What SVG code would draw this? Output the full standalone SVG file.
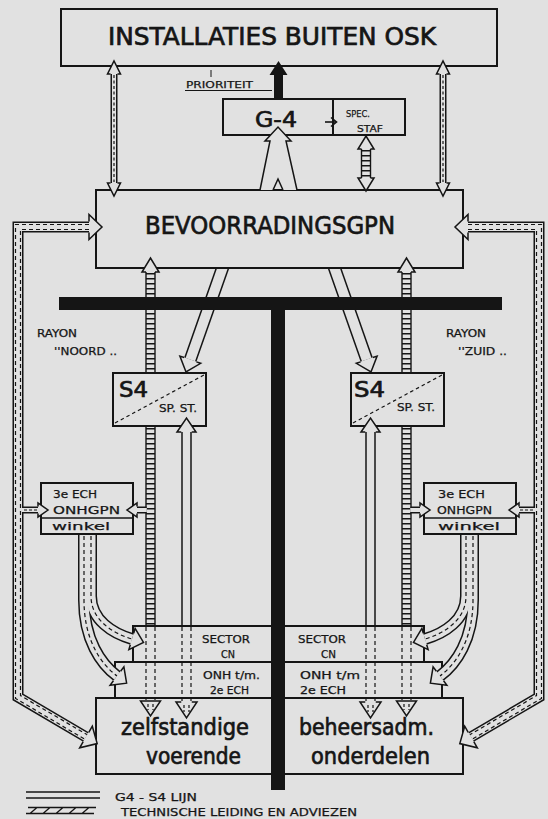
<svg xmlns="http://www.w3.org/2000/svg" width="548" height="819" viewBox="0 0 548 819">
<style>
.bg{fill:#e1e1e1}
.bx{fill:#e1e1e1;stroke:#151515;stroke-width:2}
.hd{fill:#e1e1e1;stroke:#151515;stroke-width:1.5;stroke-linejoin:miter}
.sk{fill:none;stroke:#151515;stroke-linejoin:miter}
.sb{fill:none;stroke:#e1e1e1;stroke-linejoin:miter}
.ds{fill:none;stroke:#151515;stroke-width:1.2;stroke-dasharray:4 3}
.rg{fill:none;stroke:#151515;stroke-dasharray:1.4 3.6}
.ink{fill:#151515}
text{font-family:"DejaVu Sans","Liberation Sans",Arial,sans-serif;fill:#151515}
.hv{stroke:#151515;stroke-width:0.7}
.sm{stroke:#151515;stroke-width:0.25}
</style>
<rect class="bg" x="0" y="0" width="548" height="819"/>

<g id="connectors-under">
 <g id="left-under">
  <line x1="146" y1="272" x2="146" y2="627" class="sk" stroke-width="1.4"/>
  <line x1="155" y1="272" x2="155" y2="627" class="sk" stroke-width="1.4"/>
  <line x1="150.5" y1="273" x2="150.5" y2="627" class="rg" stroke-width="9"/>
  <path class="sk" stroke-width="13" d="M224.6,262 L190.3,359.7"/>
  <path class="sb" stroke-width="10" d="M224.6,262 L190.3,359.7"/>
  <line class="sk" stroke-width="10.5" x1="186.5" y1="432" x2="186.5" y2="627"/>
  <line class="sb" stroke-width="7.5" x1="186.5" y1="432" x2="186.5" y2="627"/>
 </g>
 <use href="#left-under" transform="matrix(-1,0,0,1,557,0)"/>
</g>

<g id="n-installaties">
 <rect class="bx" x="61" y="9" width="436" height="57"/>
 <text class="hv" x="108" y="45" font-size="24" textLength="328" lengthAdjust="spacingAndGlyphs">INSTALLATIES BUITEN OSK</text>
</g>
<g id="n-g4">
 <rect class="bx" x="223" y="99" width="182" height="36"/>
 <line x1="333" y1="99" x2="333" y2="135" stroke="#151515" stroke-width="2"/>
 <text class="hv" x="255" y="127" font-size="22" textLength="42" lengthAdjust="spacingAndGlyphs">G-4</text>
 <text class="sm" x="346" y="117" font-size="9" textLength="24" lengthAdjust="spacingAndGlyphs">SPEC.</text>
 <text class="sm" x="357" y="132" font-size="9" textLength="26" lengthAdjust="spacingAndGlyphs">STAF</text>
</g>
<g id="n-bevoorrading">
 <rect class="bx" x="96" y="190" width="367" height="78"/>
 <text class="hv" x="145" y="234" font-size="24" textLength="250" lengthAdjust="spacingAndGlyphs">BEVOORRADINGSGPN</text>
</g>
<g id="n-s4-noord">
 <rect class="bx" x="113" y="373" width="93" height="53"/>
 <line class="ds" x1="115" y1="423" x2="204" y2="375" style="stroke-dasharray:3.5 3"/>
 <text class="hv" x="119" y="397" font-size="21" textLength="29" lengthAdjust="spacingAndGlyphs">S4</text>
 <text class="sm" x="159" y="412" font-size="10" textLength="38" lengthAdjust="spacingAndGlyphs">SP. ST.</text>
</g>
<g id="n-s4-zuid">
 <rect class="bx" x="351" y="373" width="93" height="53"/>
 <line class="ds" x1="353" y1="423" x2="442" y2="375" style="stroke-dasharray:3.5 3"/>
 <text class="hv" x="354" y="397" font-size="21" textLength="31" lengthAdjust="spacingAndGlyphs">S4</text>
 <text class="sm" x="397" y="411" font-size="10" textLength="38" lengthAdjust="spacingAndGlyphs">SP. ST.</text>
</g>
<g id="n-ech-noord">
 <rect class="bx" x="41" y="483" width="92" height="51"/>
 <line x1="41" y1="518" x2="133" y2="518" stroke="#151515" stroke-width="1.5"/>
 <text class="sm" x="53" y="498" font-size="11" textLength="44" lengthAdjust="spacingAndGlyphs">3e ECH</text>
 <text class="sm" x="53" y="514" font-size="11" textLength="67" lengthAdjust="spacingAndGlyphs">ONHGPN</text>
 <text class="sm" x="52" y="530" font-size="11" textLength="58" lengthAdjust="spacingAndGlyphs">winkel</text>
</g>
<g id="n-ech-zuid">
 <rect class="bx" x="424" y="483" width="92" height="51"/>
 <line x1="424" y1="518" x2="516" y2="518" stroke="#151515" stroke-width="1.5"/>
 <text class="sm" x="438" y="498" font-size="11" textLength="47" lengthAdjust="spacingAndGlyphs">3e ECH</text>
 <text class="sm" x="437" y="514" font-size="11" textLength="55" lengthAdjust="spacingAndGlyphs">ONHGPN</text>
 <text class="sm" x="438" y="530" font-size="11" textLength="62" lengthAdjust="spacingAndGlyphs">winkel</text>
</g>
<g id="n-sector">
 <rect class="bx" x="133" y="626" width="291" height="36"/>
 <text class="sm" x="202" y="643" font-size="10" textLength="48" lengthAdjust="spacingAndGlyphs">SECTOR</text>
 <text class="sm" x="221" y="658" font-size="10" textLength="14" lengthAdjust="spacingAndGlyphs">CN</text>
 <text class="sm" x="298" y="643" font-size="10" textLength="48" lengthAdjust="spacingAndGlyphs">SECTOR</text>
 <text class="sm" x="321" y="658" font-size="10" textLength="15" lengthAdjust="spacingAndGlyphs">CN</text>
</g>
<g id="n-onh">
 <rect class="bx" x="115" y="662" width="327" height="36"/>
 <text class="sm" x="203" y="679" font-size="10" textLength="57" lengthAdjust="spacingAndGlyphs">ONH  t/m.</text>
 <text class="sm" x="210" y="694" font-size="10" textLength="39" lengthAdjust="spacingAndGlyphs">2e ECH</text>
 <text class="sm" x="300" y="679" font-size="10" textLength="60" lengthAdjust="spacingAndGlyphs">ONH  t/m</text>
 <text class="sm" x="300" y="694" font-size="10" textLength="46" lengthAdjust="spacingAndGlyphs">2e ECH</text>
</g>
<g id="n-onderdelen">
 <rect class="bx" x="96" y="698" width="367" height="76"/>
 <text class="hv" x="121" y="735" font-size="23" textLength="128" lengthAdjust="spacingAndGlyphs">zelfstandige</text>
 <text class="hv" x="146" y="764" font-size="23" textLength="95" lengthAdjust="spacingAndGlyphs">voerende</text>
 <text class="hv" x="299" y="735" font-size="23" textLength="135" lengthAdjust="spacingAndGlyphs">beheersadm.</text>
 <text class="hv" x="311" y="764" font-size="23" textLength="119" lengthAdjust="spacingAndGlyphs">onderdelen</text>
</g>

<g id="labels">
 <text class="sm" x="186" y="88" font-size="9" textLength="67" lengthAdjust="spacingAndGlyphs">PRIORITEIT</text>
 <line x1="185" y1="90.5" x2="272" y2="90.5" stroke="#151515" stroke-width="1"/>
 <line x1="211" y1="70" x2="211" y2="77" stroke="#151515" stroke-width="1"/>
 <text class="sm" x="37" y="337" font-size="10" textLength="40" lengthAdjust="spacingAndGlyphs">RAYON</text>
 <text class="sm" x="54" y="355" font-size="10" textLength="63" lengthAdjust="spacingAndGlyphs">''NOORD ..</text>
 <text class="sm" x="446" y="337" font-size="10" textLength="40" lengthAdjust="spacingAndGlyphs">RAYON</text>
 <text class="sm" x="458" y="355" font-size="10" textLength="49" lengthAdjust="spacingAndGlyphs">''ZUID ..</text>
</g>

<g id="connectors">
 <g id="left-over">
  <line x1="114" y1="74" x2="114" y2="183" class="sk" stroke-width="7"/>
  <line x1="114" y1="74" x2="114" y2="183" class="sb" stroke-width="4"/>
  <line x1="114" y1="75" x2="114" y2="182" class="ds" style="stroke-dasharray:3 2.5"/>
  <path class="hd" d="M110.5,74 L107.5,74 L114,61 L120.5,74 L117.5,74"/>
  <path class="hd" d="M110.5,183 L107.5,183 L114,196 L120.5,183 L117.5,183"/>

  <path class="sk" stroke-width="11" d="M89,227 L18,227 L18,697 L86,737"/>
  <path class="sb" stroke-width="8" d="M89,227 L18,227 L18,697 L86,737"/>
  <path class="ds" d="M89,229.5 L20.5,229.5 L20.5,695.6 L87.3,734.8"/>
  <path class="ds" d="M89,224.5 L15.5,224.5 L15.5,698.4 L84.7,739.2"/>
  <path class="hd" d="M89,221.5 L89,214.5 L102,227 L89,239.5 L89,232.5"/>
  <path class="hd" d="M88.8,732.3 L92.3,726.2 L97.2,743.6 L79.7,747.8 L83.2,741.7"/>

  <line x1="22" y1="510" x2="38" y2="510" class="sk" stroke-width="7"/>
  <line x1="21.8" y1="510" x2="38" y2="510" class="sb" stroke-width="4"/>
  <line x1="24" y1="510" x2="39" y2="510" class="ds" style="stroke-dasharray:3 2"/>
  <path class="hd" d="M38,506.5 L38,503 L48,510 L38,517 L38,513.5"/>

  <line x1="137" y1="510" x2="146.5" y2="510" class="sk" stroke-width="7"/>
  <line x1="137" y1="510" x2="146.8" y2="510" class="sb" stroke-width="4"/>
  <path class="hd" d="M137,506.5 L137,503 L127,510 L137,517 L137,513.5"/>

  <path class="sk" stroke-width="12" d="M91,535 L91,596 C91,620 112.8,633.4 132,639"/>
  <path class="sk" stroke-width="12" d="M84,535 L84,600 C84,640 101,664 117,676"/>
  <path class="sb" stroke-width="9" d="M91,535 L91,596 C91,620 112.8,633.4 132,639"/>
  <path class="sb" stroke-width="9" d="M84,535 L84,600 C84,640 101,664 117,676"/>
  <path class="ds" d="M91,536 L91,596 C91,620 112.8,633.4 132,639"/>
  <path class="ds" d="M84,536 L84,600 C84,640 101,664 117,676"/>
  <path class="hd" d="M133.7,633.2 L135.1,628.4 L143.5,642.4 L128.9,649.6 L130.3,644.8"/>
  <path class="hd" d="M120.6,671.2 L123.9,666.8 L126.6,683.2 L110.1,685.2 L113.4,680.8"/>

  <path class="hd" d="M146,272 L142,272 L150.5,258 L159,272 L155,272"/>
  <path class="hd" d="M181.25,432 L177,432 L186.5,418 L196,432 L191.75,432"/>
  <path class="hd" d="M196.4,361.9 L200.7,363.3 L186,372 L179.9,356.1 L184.2,357.55"/>

  <path class="hd" d="M140.5,701 L160.5,701 L150.5,716 Z"/>
  <path class="hd" d="M181.25,702 L176,702 L186.5,718 L197,702 L191.75,702"/>
  <path class="ds" d="M146,627 V700 M155,627 V700 M182,627 V703 M191,627 V703"/>
  <path class="ds" d="M148,704 V710 M153,704 V710 M184,705 V712 M189,705 V712" style="stroke-dasharray:3 2"/>
 </g>
 <use href="#left-over" transform="matrix(-1,0,0,1,557,0)"/>

 <g id="g4-links">
  <line x1="361.5" y1="149" x2="361.5" y2="178" class="sk" stroke-width="1.4"/>
  <line x1="370.5" y1="149" x2="370.5" y2="178" class="sk" stroke-width="1.4"/>
  <line x1="366" y1="150" x2="366" y2="178" class="rg" stroke-width="9"/>
  <path class="hd" d="M361.5,149 L358,149 L366,136 L374,149 L370.5,149"/>
  <path class="hd" d="M361.5,178 L358,178 L366,191 L374,178 L370.5,178"/>
  <path class="hd" d="M260,190 L270,141 L265,141 L278,127 L291,141 L286,141 L297,190 M283,190 L278,179 L273,190"/>
  <path class="ink" d="M274,100 V75 H269.5 L278.5,61 L287.5,75 H283 V100 Z"/>
  <line x1="325" y1="122" x2="336" y2="122" stroke="#151515" stroke-width="1.6"/>
  <path d="M331,117.5 L336.5,122 L331,126.5" fill="none" stroke="#151515" stroke-width="1.6"/>
 </g>
</g>

<g id="t-divider">
 <rect class="ink" x="59" y="297" width="443" height="13"/>
 <rect class="ink" x="271" y="297" width="14" height="493"/>
</g>

<g id="legend">
 <line x1="26" y1="792" x2="100" y2="792" stroke="#151515" stroke-width="1.3"/>
 <line x1="26" y1="798" x2="100" y2="798" stroke="#151515" stroke-width="1.3"/>
 <text class="sm" x="115" y="801" font-size="10" textLength="82" lengthAdjust="spacingAndGlyphs">G4 - S4 LIJN</text>
 <path d="M28,807.5 H96 M26,813.5 H94 M30,813.5 L37,807.5 M43,813.5 L50,807.5 M56,813.5 L63,807.5 M69,813.5 L76,807.5 M82,813.5 L89,807.5" fill="none" stroke="#151515" stroke-width="1.3"/>
 <text class="sm" x="121" y="816" font-size="10" textLength="236" lengthAdjust="spacingAndGlyphs">TECHNISCHE LEIDING EN ADVIEZEN</text>
</g>
</svg>
